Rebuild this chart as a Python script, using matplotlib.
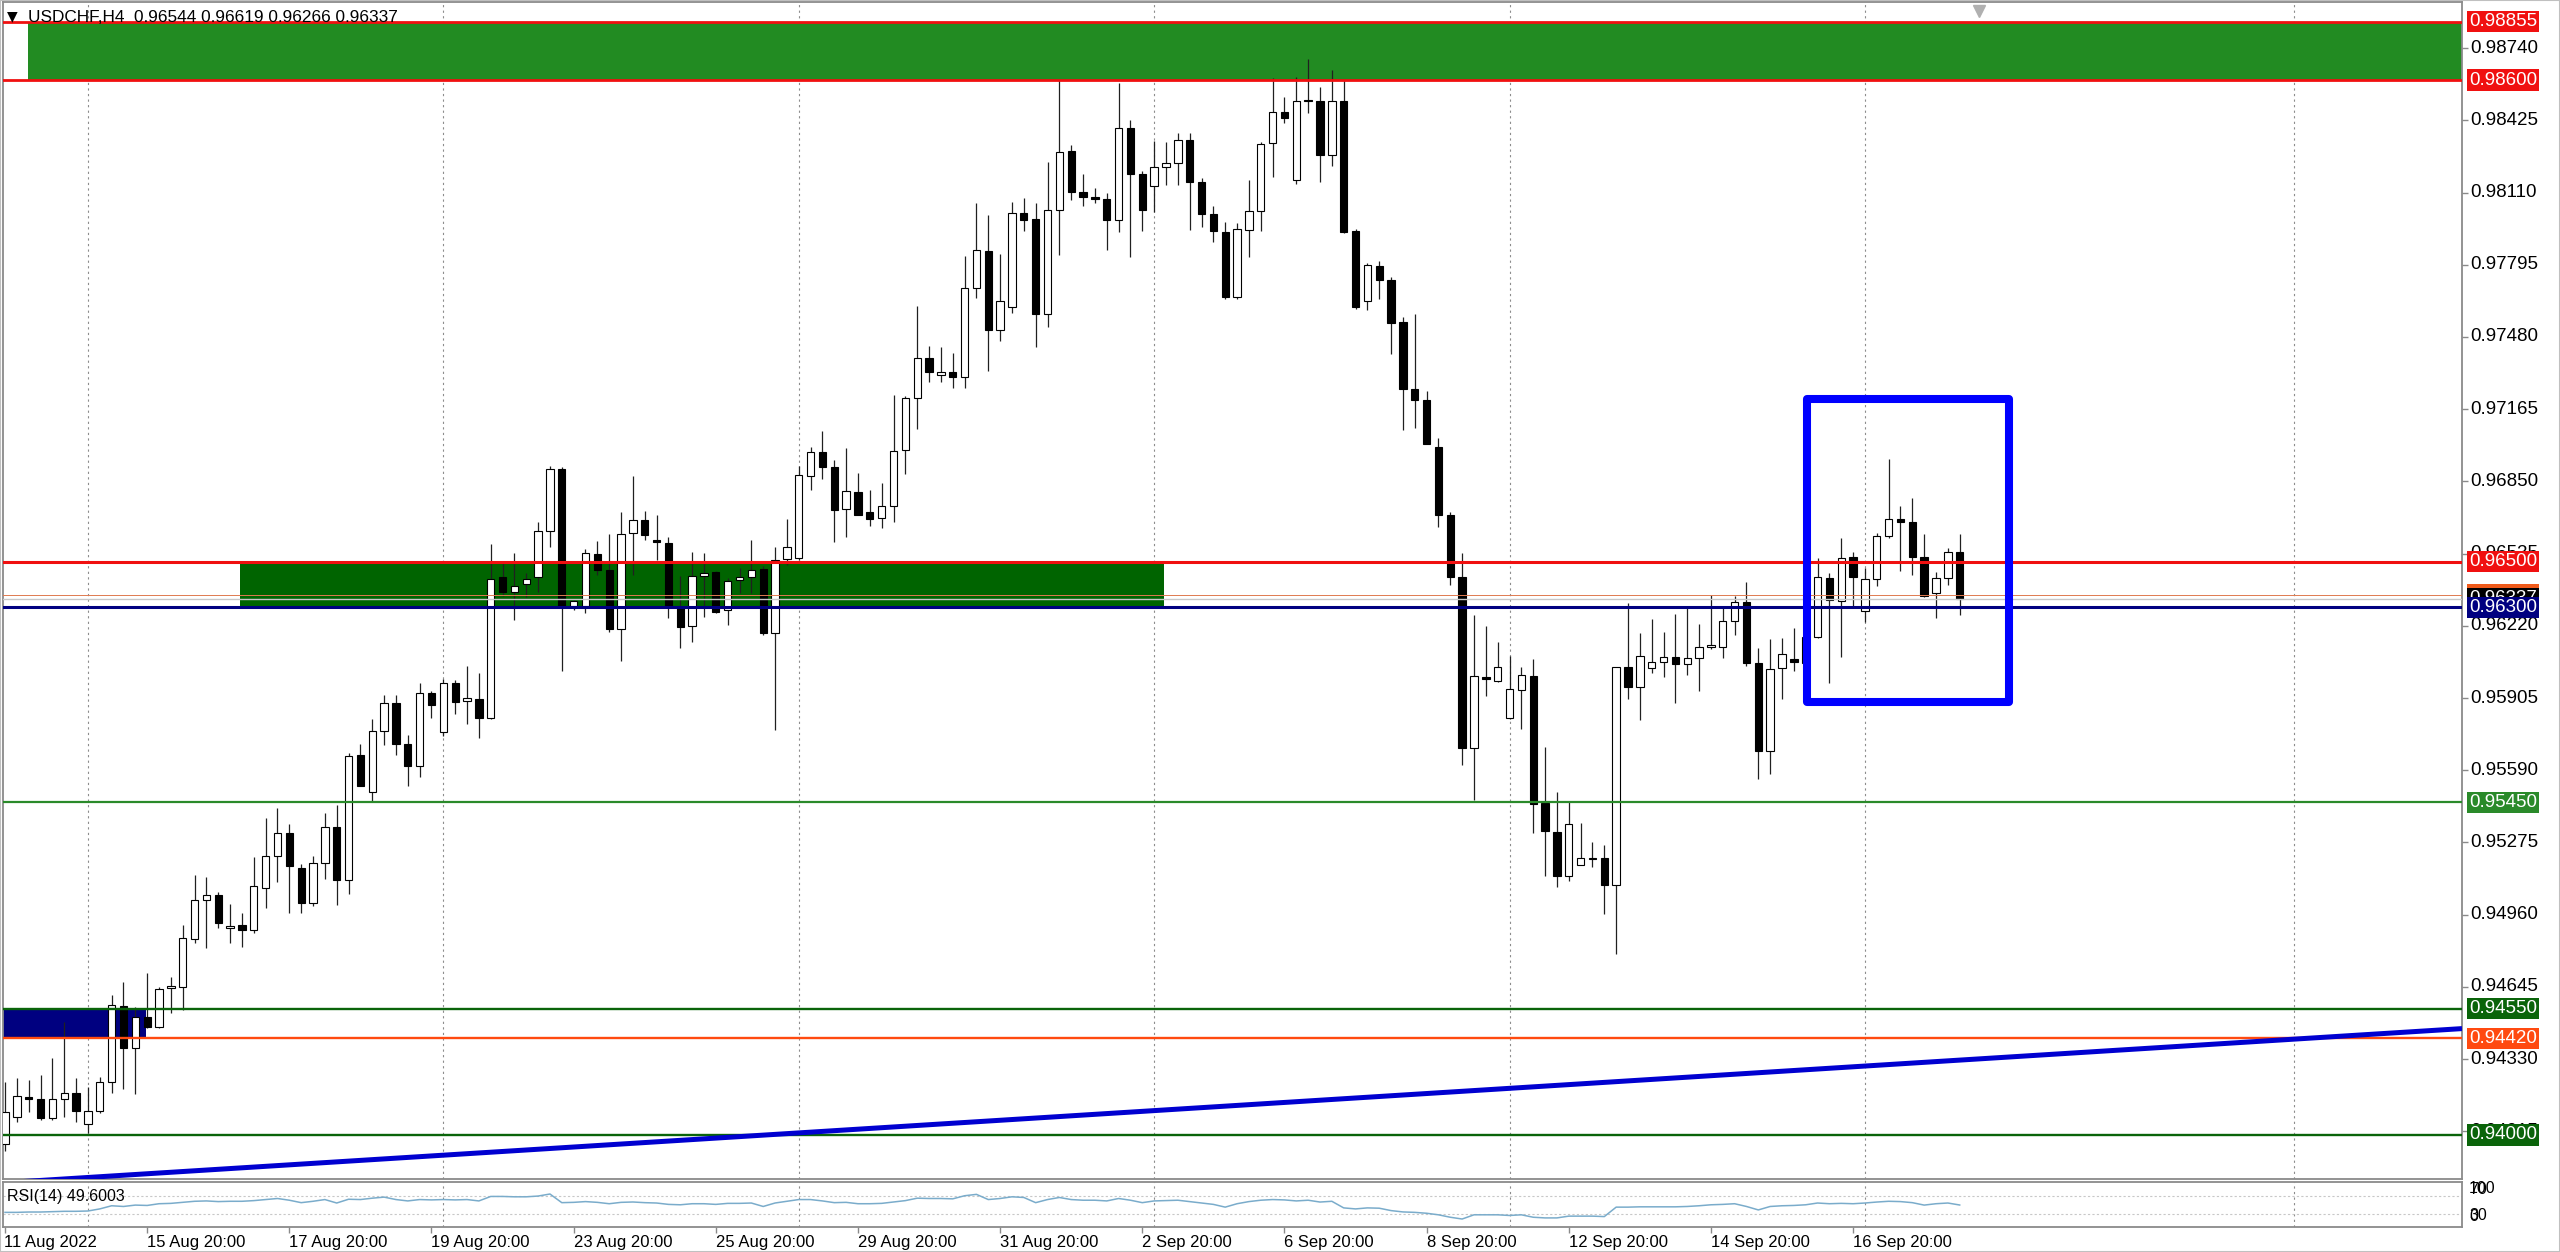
import matplotlib
matplotlib.use("Agg")
import numpy as np
import matplotlib.pyplot as plt
from matplotlib.patches import Rectangle
from matplotlib.transforms import blended_transform_factory
from matplotlib import font_manager

# ---- data (H4 bars from 11 Aug 2022 20:00) ----
opens = [0.93960, 0.94076, 0.94166, 0.94154, 0.94071, 0.94155, 0.94183, 0.94045, 0.94103, 0.94230,
         0.94561, 0.94377, 0.94515, 0.94468, 0.94638, 0.94643, 0.94852, 0.95024, 0.95046, 0.94900,
         0.94915, 0.94893, 0.95075, 0.95216, 0.95317, 0.95162, 0.95009, 0.95187, 0.95344, 0.95111,
         0.95655, 0.95496, 0.95762, 0.95885, 0.95704, 0.95608, 0.95928, 0.95755, 0.95972, 0.95893,
         0.95902, 0.95820, 0.96432, 0.96367, 0.96401, 0.96432, 0.96635, 0.96903, 0.96308, 0.96308,
         0.96533, 0.96463, 0.96205, 0.96623, 0.96681, 0.96594, 0.96583, 0.96303, 0.96220, 0.96439,
         0.96453, 0.96289, 0.96420, 0.96435, 0.96466, 0.96190, 0.96510, 0.96514, 0.96874, 0.96977,
         0.96914, 0.96728, 0.96805, 0.96715, 0.96689, 0.96743, 0.96986, 0.97212, 0.97390, 0.97314,
         0.97326, 0.97304, 0.97695, 0.97854, 0.97510, 0.97612, 0.98019, 0.97993, 0.97580, 0.98034,
         0.98291, 0.98114, 0.98092, 0.98082, 0.97990, 0.98393, 0.98189, 0.98139, 0.98223, 0.98238,
         0.98339, 0.98155, 0.98016, 0.97939, 0.97653, 0.97947, 0.98031, 0.98325, 0.98463, 0.98165,
         0.98513, 0.98511, 0.98274, 0.98511, 0.97944, 0.97638, 0.97791, 0.97728, 0.97547, 0.97251,
         0.97205, 0.97001, 0.96705, 0.96432, 0.95687, 0.95996, 0.95980, 0.95820, 0.95941, 0.96002,
         0.95447, 0.95322, 0.95127, 0.95178, 0.95209, 0.95206, 0.95090, 0.96039, 0.95952, 0.96034,
         0.96063, 0.96082, 0.96052, 0.96078, 0.96126, 0.96126, 0.96242, 0.96325, 0.96056, 0.95675,
         0.96034, 0.96075, 0.96056, 0.96172, 0.96427, 0.96330, 0.96521, 0.96284, 0.96424, 0.96612,
         0.96686, 0.96674, 0.96518, 0.96364, 0.96427, 0.96544]
highs = [0.94230, 0.94246, 0.94238, 0.94260, 0.94333, 0.94493, 0.94246, 0.94209, 0.94253, 0.94610,
         0.94668, 0.94558, 0.94704, 0.94646, 0.94686, 0.94915, 0.95133, 0.95126, 0.95060, 0.95006,
         0.94966, 0.95213, 0.95380, 0.95427, 0.95355, 0.95180, 0.95216, 0.95402, 0.95438, 0.95667,
         0.95704, 0.95812, 0.95918, 0.95918, 0.95744, 0.95972, 0.95935, 0.95987, 0.95985, 0.96045,
         0.96013, 0.96577, 0.96495, 0.96536, 0.96450, 0.96674, 0.96917, 0.96914, 0.96335, 0.96554,
         0.96591, 0.96620, 0.96715, 0.96873, 0.96721, 0.96703, 0.96609, 0.96437, 0.96543, 0.96536,
         0.96460, 0.96427, 0.96471, 0.96594, 0.96480, 0.96565, 0.96686, 0.96917, 0.97000, 0.97071,
         0.96943, 0.96994, 0.96885, 0.96812, 0.96842, 0.97227, 0.97223, 0.97615, 0.97440, 0.97435,
         0.97412, 0.97833, 0.98063, 0.98012, 0.97842, 0.98070, 0.98088, 0.98063, 0.98243, 0.98600,
         0.98317, 0.98189, 0.98128, 0.98107, 0.98586, 0.98427, 0.98205, 0.98335, 0.98332, 0.98368,
         0.98368, 0.98172, 0.98051, 0.97983, 0.97976, 0.98165, 0.98330, 0.98608, 0.98528, 0.98616,
         0.98691, 0.98569, 0.98645, 0.98601, 0.97950, 0.97801, 0.97813, 0.97743, 0.97569, 0.97580,
         0.97246, 0.97038, 0.96716, 0.96539, 0.96266, 0.96218, 0.96150, 0.96087, 0.96039, 0.96074,
         0.95690, 0.95495, 0.95452, 0.95362, 0.95278, 0.95262, 0.96042, 0.96321, 0.96187, 0.96248,
         0.96191, 0.96270, 0.96308, 0.96226, 0.96354, 0.96296, 0.96350, 0.96412, 0.96124, 0.96161,
         0.96165, 0.96209, 0.96220, 0.96514, 0.96452, 0.96601, 0.96543, 0.96471, 0.96626, 0.96946,
         0.96742, 0.96779, 0.96619, 0.96456, 0.96558, 0.96619]
lows = [0.93930, 0.94057, 0.94100, 0.94065, 0.94065, 0.94079, 0.94057, 0.94006, 0.94096, 0.94183,
        0.94198, 0.94178, 0.94464, 0.94464, 0.94529, 0.94544, 0.94835, 0.94813, 0.94900, 0.94835,
        0.94820, 0.94878, 0.94987, 0.95104, 0.94966, 0.94966, 0.94998, 0.95114, 0.95002, 0.95050,
        0.95521, 0.95457, 0.95700, 0.95656, 0.95521, 0.95560, 0.95816, 0.95740, 0.95834, 0.95792,
        0.95729, 0.95815, 0.96350, 0.96245, 0.96347, 0.96369, 0.96565, 0.96024, 0.96289, 0.96277,
        0.96440, 0.96195, 0.96068, 0.96442, 0.96594, 0.96507, 0.96252, 0.96122, 0.96151, 0.96257,
        0.96275, 0.96223, 0.96362, 0.96362, 0.96180, 0.95766, 0.96485, 0.96505, 0.96812, 0.96859,
        0.96587, 0.96609, 0.96703, 0.96657, 0.96648, 0.96674, 0.96881, 0.97077, 0.97285, 0.97285,
        0.97256, 0.97256, 0.97649, 0.97333, 0.97464, 0.97583, 0.97944, 0.97435, 0.97525, 0.97838,
        0.98078, 0.98053, 0.98063, 0.97859, 0.97939, 0.97827, 0.97944, 0.98027, 0.98143, 0.98143,
        0.97947, 0.97961, 0.97896, 0.97644, 0.97644, 0.97830, 0.97944, 0.98176, 0.98415, 0.98147,
        0.98459, 0.98157, 0.98226, 0.97935, 0.97604, 0.97598, 0.97644, 0.97406, 0.97074, 0.97081,
        0.97013, 0.96652, 0.96396, 0.95614, 0.95460, 0.95912, 0.95975, 0.95815, 0.95769, 0.95317,
        0.95130, 0.95082, 0.95108, 0.95175, 0.95167, 0.94963, 0.94790, 0.95899, 0.95809, 0.96013,
        0.95998, 0.95885, 0.96005, 0.95936, 0.96117, 0.96078, 0.96180, 0.96045, 0.95550, 0.95573,
        0.95899, 0.96024, 0.96020, 0.96165, 0.95970, 0.96082, 0.96303, 0.96238, 0.96394, 0.96605,
        0.96460, 0.96441, 0.96345, 0.96252, 0.96398, 0.96266]
closes = [0.94100, 0.94169, 0.94154, 0.94071, 0.94158, 0.94180, 0.94105, 0.94105, 0.94230, 0.94566,
          0.94377, 0.94515, 0.94471, 0.94634, 0.94649, 0.94857, 0.95024, 0.95046, 0.94922, 0.94912,
          0.94893, 0.95086, 0.95216, 0.95317, 0.95172, 0.95009, 0.95187, 0.95344, 0.95111, 0.95652,
          0.95521, 0.95762, 0.95885, 0.95704, 0.95608, 0.95928, 0.95874, 0.95969, 0.95887, 0.95903,
          0.95820, 0.96423, 0.96367, 0.96395, 0.96423, 0.96635, 0.96903, 0.96303, 0.96328, 0.96536,
          0.96463, 0.96205, 0.96620, 0.96681, 0.96616, 0.96584, 0.96303, 0.96216, 0.96437, 0.96452,
          0.96282, 0.96417, 0.96432, 0.96463, 0.96190, 0.96507, 0.96562, 0.96878, 0.96980, 0.96914,
          0.96725, 0.96809, 0.96703, 0.96686, 0.96743, 0.96982, 0.97212, 0.97390, 0.97326, 0.97326,
          0.97304, 0.97695, 0.97859, 0.97510, 0.97638, 0.98019, 0.97990, 0.97580, 0.98034, 0.98285,
          0.98114, 0.98092, 0.98083, 0.97990, 0.98390, 0.98189, 0.98034, 0.98223, 0.98238, 0.98339,
          0.98158, 0.98016, 0.97944, 0.97653, 0.97949, 0.98031, 0.98322, 0.98463, 0.98434, 0.98511,
          0.98511, 0.98274, 0.98511, 0.97939, 0.97610, 0.97794, 0.97728, 0.97539, 0.97251, 0.97205,
          0.97013, 0.96703, 0.96432, 0.95687, 0.95999, 0.95987, 0.96042, 0.95944, 0.96004, 0.95441,
          0.95325, 0.95130, 0.95357, 0.95209, 0.95203, 0.95090, 0.96039, 0.95952, 0.96090, 0.96063,
          0.96082, 0.96052, 0.96078, 0.96126, 0.96136, 0.96242, 0.96325, 0.96056, 0.95675, 0.96030,
          0.96095, 0.96063, 0.96170, 0.96431, 0.96332, 0.96517, 0.96431, 0.96424, 0.96612, 0.96684,
          0.96671, 0.96518, 0.96350, 0.96427, 0.96543, 0.96337]
rsi = [33.0, 33.0, 33.8, 33.8, 34.5, 35.4, 35.4, 36.1, 40.8, 47.9,
       46.3, 49.4, 48.6, 52.5, 53.3, 55.6, 58.0, 58.8, 57.3, 58.0,
       58.0, 59.5, 61.9, 64.3, 60.4, 54.9, 58.0, 61.9, 54.1, 62.6,
       61.9, 65.0, 67.4, 61.9, 58.8, 61.9, 61.1, 61.9, 61.1, 61.9,
       58.8, 68.9, 68.9, 68.1, 68.1, 69.8, 74.4, 54.9, 55.6, 57.3,
       55.6, 52.5, 55.6, 56.4, 54.9, 54.1, 51.0, 50.1, 52.5, 52.5,
       51.0, 53.3, 53.3, 54.1, 46.3, 54.1, 58.0, 61.9, 61.9, 58.8,
       54.9, 55.6, 52.5, 52.5, 53.3, 56.4, 59.5, 65.0, 64.3, 64.3,
       63.5, 70.5, 73.6, 61.9, 64.3, 68.1, 66.6, 54.9, 61.9, 66.6,
       61.9, 60.4, 60.4, 58.8, 64.3, 60.4, 54.9, 58.8, 59.5, 60.4,
       57.3, 54.1, 51.0, 44.8, 52.5, 57.3, 60.4, 61.9, 61.1, 58.8,
       60.4, 56.3, 58.0, 43.1, 40.8, 43.1, 42.4, 37.0, 34.0, 33.0,
       31.0, 27.5, 22.0, 18.0, 27.5, 27.5, 27.5, 26.0, 27.5, 22.0,
       20.5, 20.5, 24.5, 24.5, 24.5, 23.5, 44.8, 44.8, 45.5, 45.5,
       45.5, 45.5, 46.3, 47.9, 50.1, 51.0, 52.5, 46.3, 38.5, 46.3,
       47.9, 48.6, 50.1, 54.1, 52.5, 53.3, 52.5, 54.1, 56.3, 58.0,
       57.3, 54.9, 49.4, 52.5, 54.1, 49.6]

time_ticks = [0, 12, 24, 36, 48, 60, 72, 84, 96, 108, 120, 132, 144, 156]
time_labels = ["11 Aug 2022", "15 Aug 20:00", "17 Aug 20:00", "19 Aug 20:00", "23 Aug 20:00",
               "25 Aug 20:00", "29 Aug 20:00", "31 Aug 20:00", "2 Sep 20:00", "6 Sep 20:00",
               "8 Sep 20:00", "12 Sep 20:00", "14 Sep 20:00", "16 Sep 20:00"]
week_grid = [7, 37, 67, 97, 127, 157, 193.2]

price_ticks = [0.98740, 0.98425, 0.98110, 0.97795, 0.97480, 0.97165, 0.96850, 0.96535,
               0.96220, 0.95905, 0.95590, 0.95275, 0.94960, 0.94645, 0.94330, 0.94015]
level_prices = [0.98855, 0.98600, 0.96500, 0.96300, 0.95450, 0.94550, 0.94420, 0.94000]
level_colors = ["#f01010", "#f01010", "#f01010", "#000080", "#2a8a2a", "#0a640a", "#ff4a10", "#0a640a"]
bid, ask = 0.96337, 0.96356
header = "USDCHF,H4  0.96544 0.96619 0.96266 0.96337"
rsi_text = "RSI(14) 49.6003"

# zones: (x0, x1, p0, p1)
top_zone = (1.9, 210, 0.98600, 0.98855)
mid_zone = (19.8, 97.8, 0.96300, 0.96500)
low_zone = (-2, 11.9, 0.94420, 0.94550)
focus_box = (152.1, 169.2, 0.95889, 0.97209)
trend = ([0, 207.4], [0.93791, 0.94463])

# ---- figure ----
W, H = 2560, 1252
fig = plt.figure(figsize=(W / 100, H / 100), dpi=100)
fig.patch.set_facecolor("white")

names = {f.name for f in font_manager.fontManager.ttflist}
lab_font = "Liberation Sans" if "Liberation Sans" in names else "DejaVu Sans"
if "Liberation Sans Narrow" in names:
    time_font, time_size = "Liberation Sans Narrow", 13.5
else:
    time_font, time_size = lab_font, 12

def fx(px): return px / W
def fy(py): return 1 - py / H

ax = fig.add_axes([fx(3), fy(1179), fx(2462) - fx(3), fy(2) - fy(1179)])
axr = fig.add_axes([fx(3), fy(1227), fx(2462) - fx(3), fy(1182) - fy(1227)])
XL = (-0.17, 207.4)
ax.set_xlim(*XL)
ax.set_ylim(0.93807, 0.98941)
axr.set_xlim(*XL)
axr.set_ylim(0, 101.5)

for a in (ax, axr):
    for s in a.spines.values():
        s.set_color("#8a8a8a")
        s.set_linewidth(1.3)
    for g in week_grid:
        a.axvline(g, color="#8c8c8c", lw=0.8, ls=(0, (2, 3)), zorder=0.5)

# zones (behind candles)
for (x0, x1, p0, p1), c in [(top_zone, "#228B22"), (mid_zone, "#006400"), (low_zone, "#000080")]:
    ax.add_patch(Rectangle((x0, p0), x1 - x0, p1 - p0, facecolor=c, edgecolor="none", zorder=1))

# candles
o, h, l, c = map(np.array, (opens, highs, lows, closes))
x = np.arange(len(o))
up = c >= o
ax.vlines(x, l, h, color="#202020", lw=0.9, zorder=3)
bh = np.maximum(np.abs(c - o), 0.00003)
ax.bar(x[up], bh[up], bottom=o[up], width=0.62, facecolor="white", edgecolor="black", lw=0.8, zorder=4)
ax.bar(x[~up], bh[~up], bottom=np.minimum(o, c)[~up], width=0.62, facecolor="black",
       edgecolor="black", lw=0.8, zorder=4)

# horizontal levels
widths = [2.0, 2.0, 2.2, 2.2, 1.6, 1.7, 1.7, 1.7]
for p, col, lw in zip(level_prices, level_colors, widths):
    ax.axhline(p, color=col, lw=lw, zorder=5)
ax.axhline(ask, color="#e07a50", lw=0.7, zorder=5)
ax.axhline(bid, color="#c8c8c8", lw=1.0, zorder=5)

# trend line
ax.plot(trend[0], trend[1], color="#0000d0", lw=3.6, zorder=5, solid_capstyle="butt")

# focus box
bx0, bx1, bp0, bp1 = focus_box
ax.add_patch(Rectangle((bx0, bp0), bx1 - bx0, bp1 - bp0, fill=False, edgecolor="#0000ff",
                       lw=5.8, joinstyle="round", zorder=6))

# chart shift marker
ax.plot([166.6], [0.9890], marker="v", color="#b0b0b0", markersize=8, zorder=7, clip_on=False)

# price axis
ax.yaxis.tick_right()
ax.set_yticks(price_ticks)
ax.tick_params(axis="y", length=4, width=1, color="#8a8a8a", labelright=False, labelleft=False)
ax.set_xticks([])
tr = blended_transform_factory(fig.transFigure, ax.transData)
for p in price_ticks:
    ax.text(fx(2470), p, f"{p:.5f}", transform=tr, ha="left", va="center", fontsize=13.5,
            family=lab_font, color="black", clip_on=False, zorder=8)
lab_bg = [(ask, "#f05a1a", "#f05a1a"), (bid, "black", "white")]
for p, col in zip(level_prices, level_colors):
    lab_bg.append((p, col, "white"))
for p, bg, tc in lab_bg:
    ax.text(fx(2469), p, f"{p:.5f}", transform=tr, ha="left", va="center", fontsize=13.5,
            family=lab_font, color=tc, clip_on=False, zorder=9,
            bbox=dict(boxstyle="square,pad=0.12", facecolor=bg, edgecolor="none"))

# header
fig.text(fx(7), fy(16), "\u25BC", fontsize=10, family="DejaVu Sans", va="center", ha="left")
fig.text(fx(28), fy(17), header, fontsize=12.4, family=lab_font, va="center", ha="left")

# RSI panel
axr.plot(x, rsi, color="#7aaccb", lw=1.1, zorder=3)
for lv in (70, 30):
    axr.axhline(lv, color="#c8c8c8", lw=0.8, ls=(0, (2, 2)), zorder=1)
axr.set_yticks([])
axr.set_xticks(time_ticks)
axr.tick_params(axis="x", length=4, width=1, color="#8a8a8a", labelbottom=False)
fig.text(fx(7), fy(1197), rsi_text, fontsize=11.5, family=lab_font, va="center", ha="left")
trr = blended_transform_factory(fig.transFigure, axr.transData)
for v, t in [(87, "100"), (84, "70"), (26, "30"), (24, "0")]:
    axr.text(fx(2469), v, t, transform=trr, fontsize=11.5, family=lab_font, va="center",
             ha="left", clip_on=False)

trx = blended_transform_factory(axr.transData, fig.transFigure)
for t, s in zip(time_ticks, time_labels):
    dx = 0.0 if t > 0 else -0.1
    axr.text(t + dx, fy(1242), s, transform=trx, fontsize=time_size, family=time_font,
             va="center", ha="left", clip_on=False)

# outer border
fig.add_artist(Rectangle((0, 0), 1, 1, transform=fig.transFigure, fill=False,
                         edgecolor="#c0c0c0", lw=1.5))

fig.savefig("out.png", dpi=100, facecolor="white")
